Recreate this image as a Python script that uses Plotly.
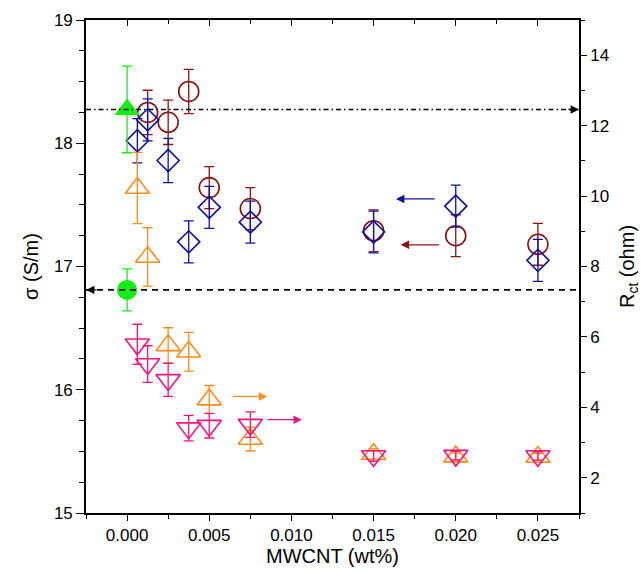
import plotly.graph_objects as go

# ---- data ----
x_blue = [0.000625, 0.00125, 0.0025, 0.00375, 0.005, 0.0075, 0.015, 0.020, 0.025]
sigma_blue = [18.02, 18.19, 17.86, 17.20, 17.48, 17.36, 17.28, 17.49, 17.05]
err_blue = [0.18, 0.17, 0.18, 0.17, 0.17, 0.17, 0.17, 0.17, 0.17]

x_red = [0.00125, 0.0025, 0.00375, 0.005, 0.0075, 0.015, 0.020, 0.025]
sigma_red = [18.25, 18.17, 18.42, 17.64, 17.47, 17.29, 17.25, 17.18]
err_red = [0.18, 0.18, 0.18, 0.17, 0.17, 0.17, 0.17, 0.17]

x_orange = [0.000625, 0.00125, 0.0025, 0.00375, 0.005, 0.0075, 0.015, 0.020, 0.025]
r_orange = [10.23, 8.27, 5.76, 5.58, 4.22, 3.10, 2.67, 2.60, 2.59]
err_orange = [1.01, 0.83, 0.50, 0.55, 0.40, 0.34, 0.15, 0.10, 0.10]

x_pink = [0.000625, 0.00125, 0.0025, 0.00375, 0.005, 0.0075, 0.015, 0.020, 0.025]
r_pink = [5.79, 5.23, 4.78, 3.41, 3.48, 3.51, 2.62, 2.63, 2.62]
err_pink = [0.57, 0.52, 0.47, 0.36, 0.35, 0.36, 0.15, 0.12, 0.12]

x_green = [0.0]
sigma_green = [16.81]
err_sigma_green = [0.17]
r_green = [12.46]
err_r_green = [1.23]

x_ticks = [0.000, 0.005, 0.010, 0.015, 0.020, 0.025]
x_range = [-0.0025, 0.0275]
sigma_range = [15, 19]
r_range = [1, 15]

# arrows (tail -> head)
arrow_blue = dict(x0=0.0188, x1=0.01636, y=17.548)
arrow_red = dict(x0=0.01908, x1=0.01665, y=17.176)
arrow_orange = dict(x0=0.00637, x1=0.00853, y=4.31)
arrow_pink = dict(x0=0.00845, x1=0.01064, y=3.65)

BLUE = "#1010A0"
RED = "#8B1010"
ORANGE = "#FF8C1A"
PINK = "#F5157F"
GREEN = "#11EE11"

FONT = "Liberation Sans, Arial, Helvetica, sans-serif"

fig = go.Figure()


def err(vals, color):
    return dict(type="data", array=vals, visible=True, color=color,
                thickness=1.3, width=5)


# green reference points
fig.add_trace(go.Scatter(x=x_green, y=r_green, yaxis="y2", mode="markers",
                         marker=dict(symbol="triangle-up", size=22, color=GREEN),
                         error_y=err(err_r_green, GREEN), showlegend=False))
fig.add_trace(go.Scatter(x=x_green, y=sigma_green, mode="markers",
                         marker=dict(symbol="circle", size=20, color=GREEN),
                         error_y=err(err_sigma_green, GREEN), showlegend=False))

# red circles (sigma)
fig.add_trace(go.Scatter(x=x_red, y=sigma_red, mode="markers",
                         marker=dict(symbol="circle-open", size=20, color=RED,
                                     line=dict(color=RED, width=1.6)),
                         error_y=err(err_red, RED), showlegend=False))
# blue diamonds (sigma)
fig.add_trace(go.Scatter(x=x_blue, y=sigma_blue, mode="markers",
                         marker=dict(symbol="diamond-open", size=17, color=BLUE,
                                     line=dict(color=BLUE, width=1.6)),
                         error_y=err(err_blue, BLUE), showlegend=False))
# orange up triangles (Rct)
fig.add_trace(go.Scatter(x=x_orange, y=r_orange, yaxis="y2", mode="markers",
                         marker=dict(symbol="triangle-up-open", size=21, color=ORANGE,
                                     line=dict(color=ORANGE, width=1.6)),
                         error_y=err(err_orange, ORANGE), showlegend=False))
# pink down triangles (Rct)
fig.add_trace(go.Scatter(x=x_pink, y=r_pink, yaxis="y2", mode="markers",
                         marker=dict(symbol="triangle-down-open", size=21, color=PINK,
                                     line=dict(color=PINK, width=1.6)),
                         error_y=err(err_pink, PINK), showlegend=False))

# dummy trace for the top axis
fig.add_trace(go.Scatter(x=x_range, y=sigma_range, xaxis="x2", mode="markers",
                         marker=dict(opacity=0), hoverinfo="skip", showlegend=False))

# reference lines
fig.add_shape(type="line", xref="paper", x0=0, x1=1, yref="y", y0=sigma_green[0],
              y1=sigma_green[0], line=dict(color="black", width=1.6, dash="6px,5px"))
fig.add_shape(type="line", xref="paper", x0=0, x1=1, yref="y2", y0=r_green[0],
              y1=r_green[0], line=dict(color="black", width=1.4, dash="5px,3px,1.5px,3px"))

annos = []
annos.append(dict(xref="paper", x=0, yref="y", y=sigma_green[0], ax=12, ay=0,
                  showarrow=True, arrowhead=2, arrowsize=1.2, arrowwidth=1.4,
                  arrowcolor="black", text=""))
annos.append(dict(xref="paper", x=1, yref="y2", y=r_green[0], ax=-12, ay=0,
                  showarrow=True, arrowhead=2, arrowsize=1.2, arrowwidth=1.4,
                  arrowcolor="black", text=""))
for a, col, yr in [(arrow_blue, BLUE, "y"), (arrow_red, RED, "y"),
                   (arrow_orange, ORANGE, "y2"), (arrow_pink, PINK, "y2")]:
    annos.append(dict(xref="x", yref=yr, axref="x", ayref=yr,
                      x=a["x1"], y=a["y"], ax=a["x0"], ay=a["y"],
                      showarrow=True, arrowhead=2, arrowsize=1.3, arrowwidth=1.3,
                      arrowcolor=col, text=""))

axis_common = dict(showline=True, linecolor="black", linewidth=1.6,
                   showgrid=False, zeroline=False, tickcolor="black",
                   tickwidth=1.4, automargin=False,
                   tickfont=dict(size=17, color="black", family=FONT))

fig.update_layout(
    width=644, height=574,
    margin=dict(l=86, r=65, t=20, b=61),
    paper_bgcolor="white", plot_bgcolor="white",
    font=dict(family=FONT, color="black"),
    xaxis=dict(range=x_range, tickvals=x_ticks, tickformat=".3f",
               ticks="outside", ticklen=6,
               minor=dict(dtick=0.0025, tick0=0, ticks="outside", ticklen=4,
                          tickwidth=1.4, tickcolor="black"),
               title=dict(text="MWCNT (wt%)", font=dict(size=20), standoff=4),
               anchor="y", **axis_common),
    xaxis2=dict(range=x_range, tickvals=x_ticks, overlaying="x", side="top",
                anchor="y", ticks="inside", ticklen=6, showticklabels=False,
                minor=dict(dtick=0.0025, tick0=0, ticks="inside", ticklen=4,
                           tickwidth=1.4, tickcolor="black"),
                **axis_common),
    yaxis=dict(range=sigma_range, dtick=1, ticks="outside", ticklen=8,
               minor=dict(dtick=0.25, tick0=15, ticks="outside", ticklen=5,
                          tickwidth=1.4, tickcolor="black"),
               title=dict(text="σ (S/m)", font=dict(size=20), standoff=10),
               **axis_common),
    yaxis2=dict(range=r_range, tick0=2, dtick=2, overlaying="y", side="right",
                anchor="x", ticks="outside", ticklen=6,
                minor=dict(dtick=1, tick0=1, ticks="outside", ticklen=4,
                           tickwidth=1.4, tickcolor="black"),
                title=dict(text="R<sub>ct</sub> (ohm)", font=dict(size=20), standoff=12),
                **axis_common),
    annotations=annos,
    showlegend=False,
)

fig.write_html("out.html")
